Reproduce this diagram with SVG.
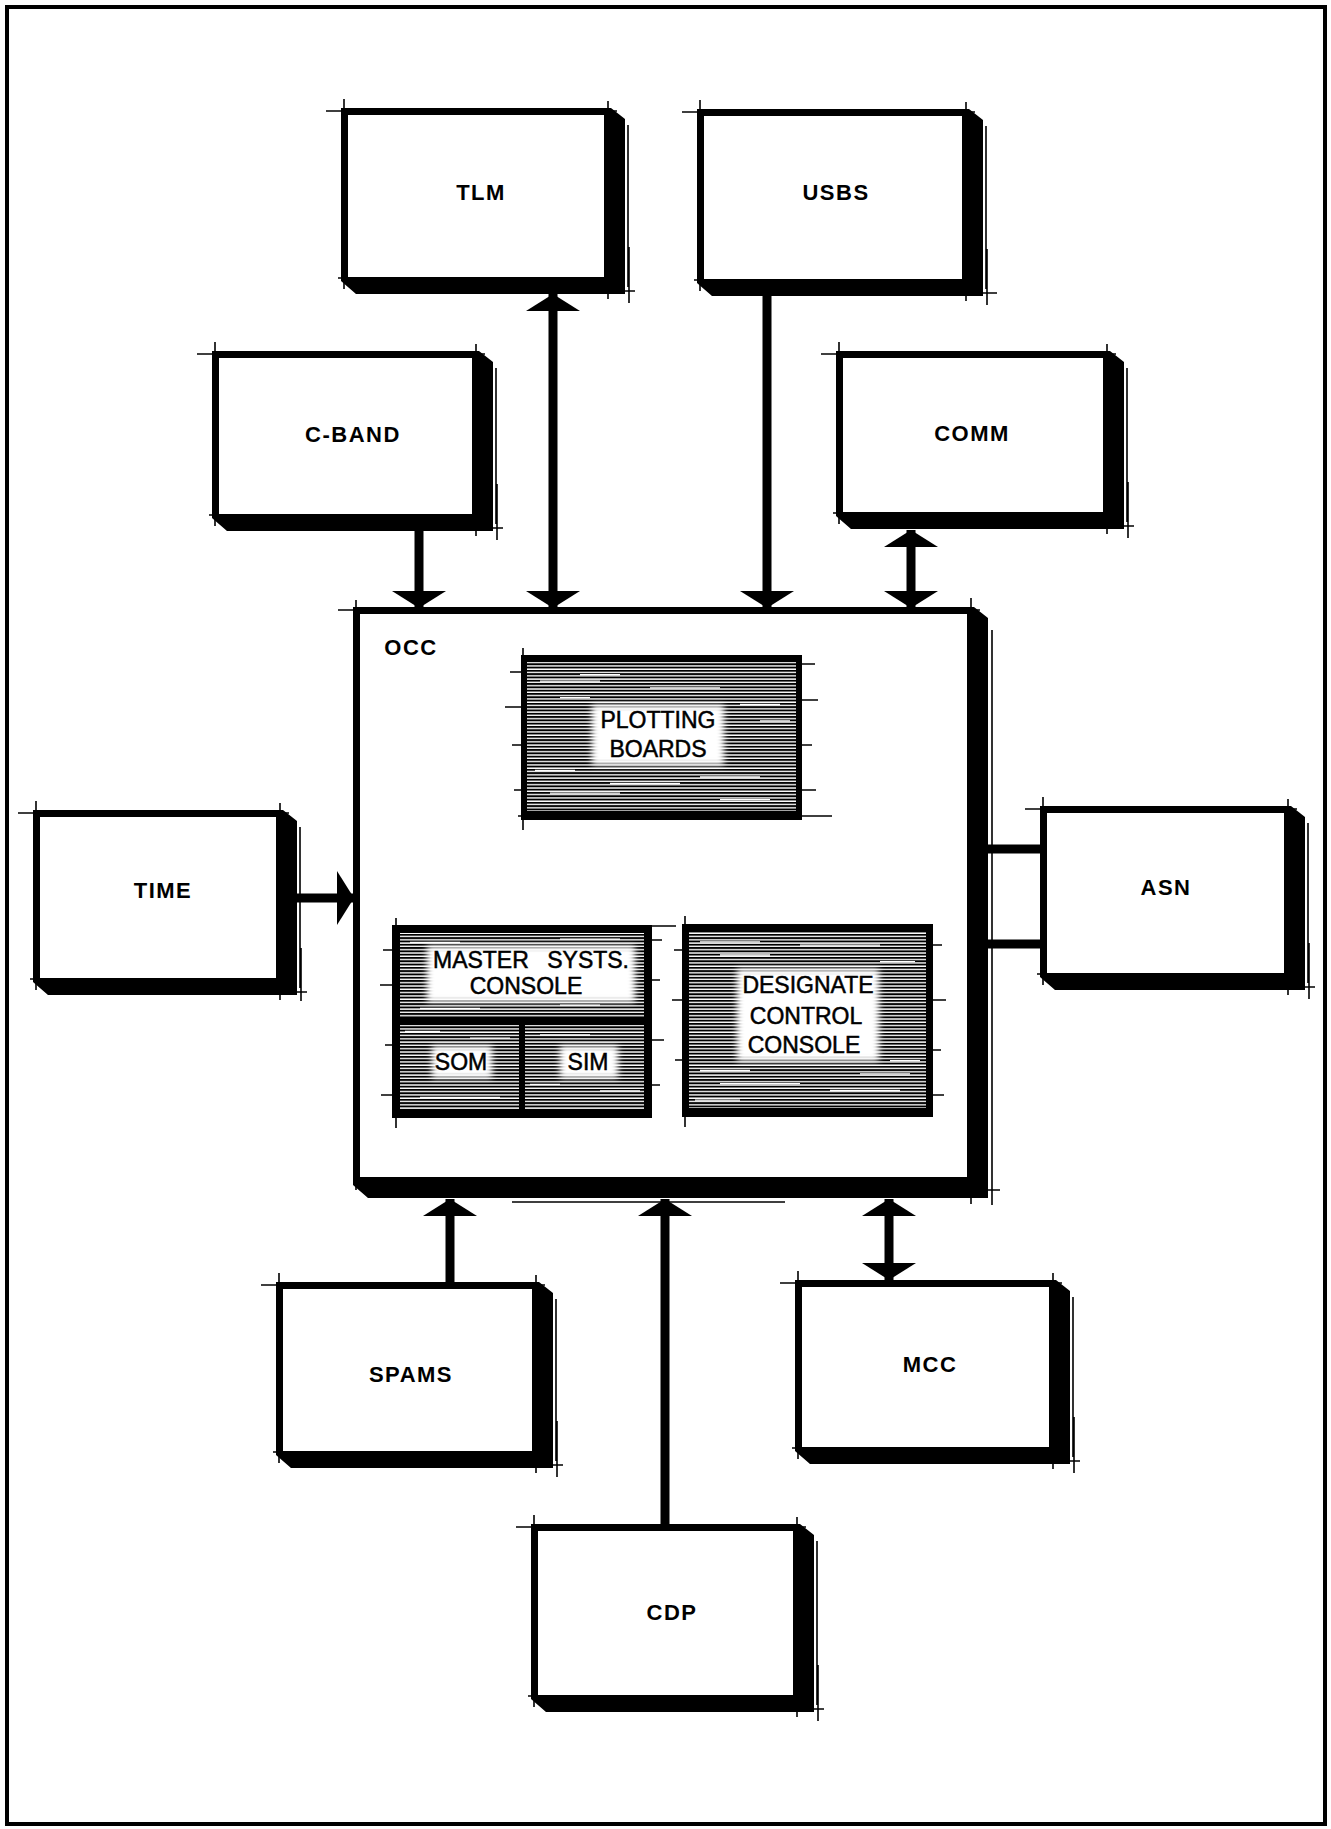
<svg xmlns="http://www.w3.org/2000/svg" width="1331" height="1829" viewBox="0 0 1331 1829">
<style>
.bg{fill:#fff}
.k{fill:#000}
.thin{stroke:#000;stroke-width:1.6;fill:none}
.wst{stroke:#fff;stroke-width:1.3;fill:none}
.wire{stroke:#000;stroke-width:9;fill:none}
.lbl{font-family:"Liberation Sans",Arial,sans-serif;font-size:22px;font-weight:bold;text-anchor:middle;fill:#000;letter-spacing:1.5px}
.in{font-family:"Liberation Sans",Arial,sans-serif;font-size:23px;text-anchor:middle;fill:#000;stroke:#000;stroke-width:0.5}
.glow{fill:#fff;filter:url(#soft)}
.hatch{fill:url(#hatch)}
</style>
<defs>
<pattern id="hatch" patternUnits="userSpaceOnUse" width="50" height="3.3">
<rect x="0" y="0" width="50" height="1.9" fill="#000"/>
</pattern>
<filter id="soft" x="-30%" y="-50%" width="160%" height="200%"><feGaussianBlur stdDeviation="3"/></filter>
<marker id="ah" markerUnits="userSpaceOnUse" markerWidth="18" markerHeight="54" viewBox="0 0 18 54" refX="17" refY="27" orient="auto-start-reverse"><path d="M0,0 L17,27 L0,54 Z" fill="#000"/></marker>
</defs>

<rect x="7" y="7" width="1318" height="1817" fill="none" stroke="#000" stroke-width="4"/>

<g id="connectors">
<path class="wire" d="M419,531 V608" marker-end="url(#ah)"/>
<path class="wire" d="M553,294 V608" marker-start="url(#ah)" marker-end="url(#ah)"/>
<path class="wire" d="M767,296 V608" marker-end="url(#ah)"/>
<path class="wire" d="M911,530 V608" marker-start="url(#ah)" marker-end="url(#ah)"/>
<path class="wire" d="M297,898 H354" marker-end="url(#ah)"/>
<path class="wire" d="M988,849 H1040 M988,944 H1040"/>
<path class="wire" d="M450,1282 V1199" marker-end="url(#ah)"/>
<path class="wire" d="M665,1524 V1199" marker-end="url(#ah)"/>
<path class="wire" d="M889,1280 V1199" marker-start="url(#ah)" marker-end="url(#ah)"/>
</g>

<g id="tlm">
<rect class="bg" x="348" y="115" width="257" height="162"/>
<rect class="k" x="341" y="108" width="265" height="7"/>
<rect class="k" x="341" y="108" width="7" height="170"/>
<polygon class="k" points="604,108 611,108 625,119 625,294 356,294 341,281 341,277 604,277"/>
<path class="thin" d="M326,111 H617 M608,101 V299 M344,99 V289 M585,291 H635 M629,247 V303 M338,278 H368 M628,125 V287"/>
<text class="lbl" x="481" y="200">TLM</text>
</g>

<g id="usbs">
<rect class="bg" x="704" y="116" width="259" height="163"/>
<rect class="k" x="697" y="109" width="267" height="7"/>
<rect class="k" x="697" y="109" width="7" height="171"/>
<polygon class="k" points="962,109 969,109 983,120 983,296 712,296 697,283 697,279 962,279"/>
<path class="thin" d="M682,112 H975 M966,102 V301 M700,100 V291 M943,293 H997 M987,249 V305 M694,280 H724 M986,126 V289"/>
<text class="lbl" x="836" y="200">USBS</text>
</g>

<g id="cband">
<rect class="bg" x="219" y="358" width="254" height="156"/>
<rect class="k" x="212" y="351" width="262" height="7"/>
<rect class="k" x="212" y="351" width="7" height="164"/>
<polygon class="k" points="472,351 479,351 493,362 493,531 227,531 212,518 212,514 472,514"/>
<path class="thin" d="M197,354 H485 M476,344 V536 M215,342 V526 M453,528 H503 M497,484 V540 M209,515 H239 M496,368 V524"/>
<text class="lbl" x="353" y="442">C-BAND</text>
</g>

<g id="comm">
<rect class="bg" x="843" y="358" width="261" height="154"/>
<rect class="k" x="836" y="351" width="269" height="7"/>
<rect class="k" x="836" y="351" width="7" height="162"/>
<polygon class="k" points="1103,351 1110,351 1124,362 1124,529 851,529 836,516 836,512 1103,512"/>
<path class="thin" d="M821,354 H1116 M1107,344 V534 M839,342 V524 M1084,526 H1134 M1128,482 V538 M833,513 H863 M1127,368 V522"/>
<text class="lbl" x="972" y="441">COMM</text>
</g>

<g id="time">
<rect class="bg" x="40" y="817" width="237" height="161"/>
<rect class="k" x="33" y="810" width="245" height="7"/>
<rect class="k" x="33" y="810" width="7" height="169"/>
<polygon class="k" points="276,810 283,810 297,821 297,995 48,995 33,982 33,978 276,978"/>
<path class="thin" d="M18,813 H289 M280,803 V1000 M36,801 V990 M257,992 H307 M301,948 V1001 M30,979 H60 M300,827 V988"/>
<text class="lbl" x="163" y="898">TIME</text>
</g>

<g id="asn">
<rect class="bg" x="1047" y="813" width="238" height="160"/>
<rect class="k" x="1040" y="806" width="246" height="7"/>
<rect class="k" x="1040" y="806" width="7" height="168"/>
<polygon class="k" points="1284,806 1291,806 1305,817 1305,990 1055,990 1040,977 1040,973 1284,973"/>
<path class="thin" d="M1025,809 H1297 M1288,799 V995 M1043,797 V985 M1265,987 H1315 M1309,943 V999 M1037,974 H1067 M1308,823 V983"/>
<text class="lbl" x="1166" y="895">ASN</text>
</g>

<g id="spams">
<rect class="bg" x="283" y="1289" width="250" height="162"/>
<rect class="k" x="276" y="1282" width="258" height="7"/>
<rect class="k" x="276" y="1282" width="7" height="170"/>
<polygon class="k" points="532,1282 539,1282 553,1293 553,1468 291,1468 276,1455 276,1451 532,1451"/>
<path class="thin" d="M261,1285 H545 M536,1275 V1473 M279,1273 V1463 M513,1465 H563 M557,1421 V1477 M273,1452 H303 M556,1299 V1461"/>
<text class="lbl" x="411" y="1382">SPAMS</text>
</g>

<g id="mcc">
<rect class="bg" x="802" y="1287" width="248" height="160"/>
<rect class="k" x="795" y="1280" width="256" height="7"/>
<rect class="k" x="795" y="1280" width="7" height="168"/>
<polygon class="k" points="1049,1280 1056,1280 1070,1291 1070,1464 810,1464 795,1451 795,1447 1049,1447"/>
<path class="thin" d="M780,1283 H1062 M1053,1273 V1469 M798,1271 V1459 M1030,1461 H1080 M1074,1417 V1473 M792,1448 H822 M1073,1297 V1457"/>
<text class="lbl" x="930" y="1372">MCC</text>
</g>

<g id="cdp">
<rect class="bg" x="538" y="1531" width="256" height="164"/>
<rect class="k" x="531" y="1524" width="264" height="7"/>
<rect class="k" x="531" y="1524" width="7" height="172"/>
<polygon class="k" points="793,1524 800,1524 814,1535 814,1712 546,1712 531,1699 531,1695 793,1695"/>
<path class="thin" d="M516,1527 H806 M797,1517 V1717 M534,1515 V1707 M774,1709 H824 M818,1665 V1721 M528,1696 H558 M817,1541 V1705"/>
<text class="lbl" x="672" y="1620">CDP</text>
</g>

<g id="occ">
<rect class="bg" x="360" y="614" width="608" height="563"/>
<rect class="k" x="353" y="607" width="616" height="7"/>
<rect class="k" x="353" y="607" width="7" height="571"/>
<polygon class="k" points="967,607 974,607 988,618 988,1198 368,1198 353,1185 353,1177 967,1177"/>
<path class="thin" d="M338,610 H980 M971,598 V1204 M356,600 V1190 M512,1202 H785 M992,630 V1205 M950,1190 H1000"/>
<text class="lbl" x="411" y="655">OCC</text>
</g>

<g id="plotting-boards">
<rect class="hatch" x="527" y="662" width="269" height="149"/>
<path class="wst" d="M540,681.2 H600 M650,687.8 H720 M560,697.7 H590 M740,704.3 H780 M535,770.3 H575 M610,783.5 H680 M700,777 H760 M550,793.1 H620 M720,799.7 H770 M580,674.6 H620 M760,720.8 H790"/>
<rect class="glow" x="592" y="705" width="132" height="60"/>
<rect class="k" x="521" y="655" width="6" height="165"/>
<rect class="k" x="521" y="655" width="281" height="7"/>
<rect class="k" x="796" y="655" width="6" height="165"/>
<rect class="k" x="521" y="811" width="281" height="9"/>
<path class="thin" d="M510,672 H521 M505,707 H521 M512,745 H521 M514,790 H521 M802,664 H815 M802,700 H818 M802,745 H812 M802,790 H816 M523,648 V830 M518,816 H832"/>
<text class="in" x="658" y="728">PLOTTING</text>
<text class="in" x="658" y="757">BOARDS</text>
</g>

<g id="master-systs-console">
<rect class="hatch" x="400" y="933" width="244" height="176"/>
<path class="wst" d="M410,942.4 H460 M560,939.1 H620 M420,1008.4 H480 M560,1005.1 H600 M405,1031.5 H440 M470,1038.1 H510 M540,1034.8 H590 M600,1090.9 H640 M420,1097.5 H500 M530,1084.3 H560"/>
<rect class="glow" x="427" y="946" width="208" height="56"/>
<rect class="glow" x="432" y="1046" width="60" height="32"/>
<rect class="glow" x="560" y="1046" width="58" height="32"/>
<rect class="k" x="392" y="925" width="8" height="193"/>
<rect class="k" x="392" y="925" width="260" height="8"/>
<rect class="k" x="644" y="925" width="8" height="193"/>
<rect class="k" x="392" y="1109" width="260" height="9"/>
<rect class="k" x="400" y="1017" width="244" height="8"/>
<rect class="k" x="519" y="1025" width="6" height="84"/>
<path class="thin" d="M383,950 H392 M380,985 H392 M385,1045 H392 M381,1095 H392 M652,940 H662 M652,980 H660 M652,1040 H664 M652,1085 H660 M652,926 H676 M396,918 V1128"/>
<text class="in" x="531" y="968" word-spacing="12">MASTER SYSTS.</text>
<text class="in" x="526" y="994">CONSOLE</text>
<text class="in" x="461" y="1070">SOM</text>
<text class="in" x="588" y="1070">SIM</text>
</g>

<g id="designate-control-console">
<rect class="hatch" x="689" y="932" width="237" height="176"/>
<path class="wst" d="M700,941.8 H760 M800,945.1 H880 M720,955 H770 M880,961.6 H915 M700,1070.5 H750 M860,1073.8 H910 M720,1083.7 H800 M830,1090.3 H900 M695,1100.2 H740 M890,1060.6 H920"/>
<rect class="glow" x="737" y="969" width="142" height="92"/>
<rect class="k" x="682" y="924" width="7" height="193"/>
<rect class="k" x="682" y="924" width="251" height="8"/>
<rect class="k" x="926" y="924" width="7" height="193"/>
<rect class="k" x="682" y="1108" width="251" height="9"/>
<path class="thin" d="M674,950 H682 M672,1000 H682 M675,1060 H682 M933,945 H942 M933,1000 H946 M933,1050 H941 M933,1095 H944 M685,916 V1127"/>
<text class="in" x="808" y="993">DESIGNATE</text>
<text class="in" x="806" y="1024">CONTROL</text>
<text class="in" x="804" y="1053">CONSOLE</text>
</g>
</svg>
